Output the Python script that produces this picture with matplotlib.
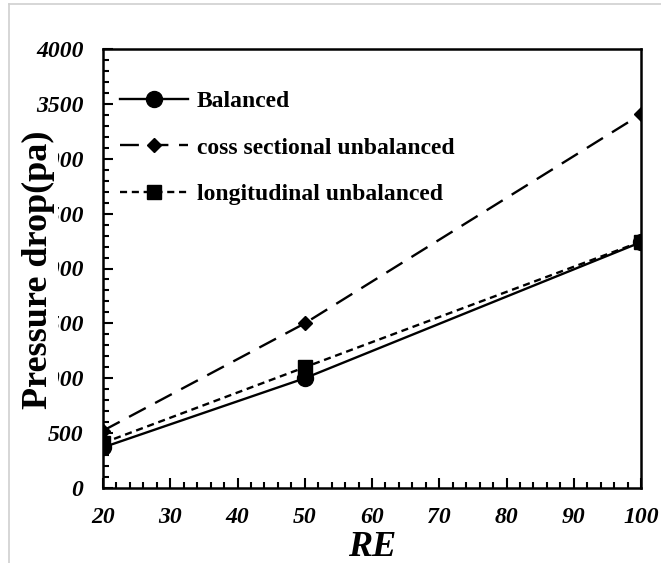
import matplotlib
matplotlib.use("Agg")
import matplotlib.pyplot as plt
from matplotlib.patches import Rectangle
from matplotlib.lines import Line2D
from matplotlib.ticker import MultipleLocator

# Reynolds numbers and pressure drop (Pa) for each configuration
re_values = [20, 50, 100]
balanced = [370, 1000, 2240]
cross_sectional = [522, 1500, 3405]
longitudinal = [410, 1100, 2245]

series_labels = ["Balanced", "coss sectional unbalanced", "longitudinal unbalanced"]
y_ticks = [0, 500, 1000, 1500, 2000, 2500, 3000, 3500, 4000]
x_ticks = [20, 30, 40, 50, 60, 70, 80, 90, 100]

W, H = 661, 563
fig = plt.figure(figsize=(W / 100, H / 100), dpi=100)
serif = "Liberation Serif"

ax = fig.add_axes([103 / W, (H - 488) / H, (641 - 103) / W, (488 - 49) / H])

ax.plot(re_values, balanced, color="black", lw=1.7, ls="-",
        marker="o", ms=11.5, label=series_labels[0], zorder=3)
ax.plot(re_values, cross_sectional, color="black", lw=1.7, ls=(0, (8, 4.5)),
        marker="D", ms=7, label=series_labels[1], zorder=3)
ax.plot(re_values, longitudinal, color="black", lw=1.7, ls=(0, (3, 2)),
        marker="s", ms=10, label=series_labels[2], zorder=3)

ax.set_xlim(20, 100)
ax.set_ylim(0, 4000)
ax.set_xticks(x_ticks)
ax.set_yticks(y_ticks)
ax.xaxis.set_minor_locator(MultipleLocator(2))
ax.yaxis.set_minor_locator(MultipleLocator(100))

for s in ax.spines.values():
    s.set_linewidth(1.8)
ax.tick_params(which="both", direction="in", width=1.5, top=False, right=False)
ax.tick_params(which="major", length=7)
ax.tick_params(which="minor", length=4)
ax.tick_params(axis="x", which="major", pad=14)
ax.tick_params(axis="y", which="major", pad=14)
for lab in ax.get_xticklabels() + ax.get_yticklabels():
    lab.set_fontfamily(serif)
    lab.set_fontstyle("italic")
    lab.set_fontweight("bold")
    lab.set_fontsize(17)

leg = ax.legend(loc="upper left", bbox_to_anchor=(0.0316, 0.905),
                frameon=False, borderpad=0, borderaxespad=0,
                handlelength=2.9, handletextpad=0.35, labelspacing=1.05,
                prop={"family": serif, "weight": "bold", "size": 17})

# axis titles
fig.text(372 / W, (H - 547) / H, "RE", ha="center", va="center",
         fontfamily=serif, fontstyle="italic", fontweight="bold", fontsize=26)
fig.patches.append(Rectangle((18 / W, (H - 418) / H), 40 / W, 296 / H,
                             transform=fig.transFigure, facecolor="white",
                             edgecolor="none", zorder=2))
fig.text(38 / W, (H - 270) / H, "Pressure drop(pa)", rotation=90,
         ha="center", va="center", fontfamily=serif, fontweight="bold",
         fontsize=26, zorder=4)

# outer frame lines
fig.add_artist(Line2D([9 / W, 9 / W], [0, (H - 4) / H], transform=fig.transFigure,
                      color="#d0d0d0", lw=1.2))
fig.add_artist(Line2D([9 / W, 1], [(H - 4) / H, (H - 4) / H], transform=fig.transFigure,
                      color="#d0d0d0", lw=1.2))

fig.savefig("out.png", dpi=100)
